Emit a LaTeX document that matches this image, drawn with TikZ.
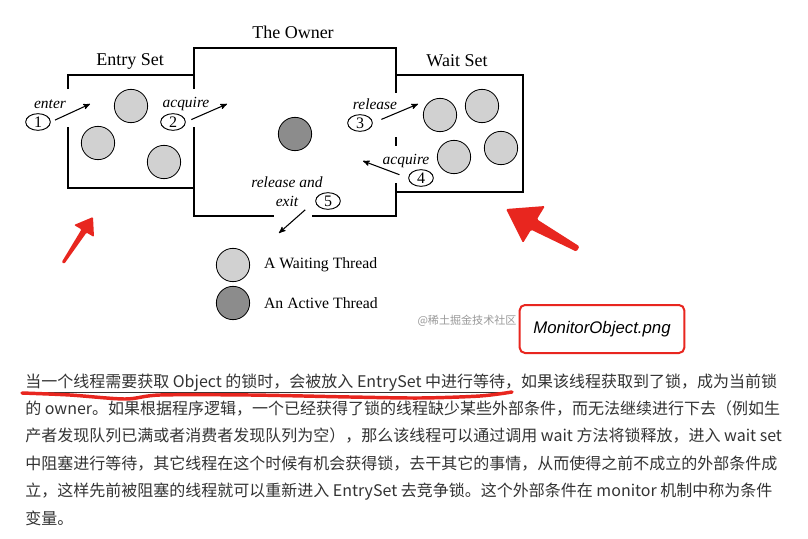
\documentclass[tikz,border=0pt]{standalone}
\usepackage{fontspec}
\setmainfont{Liberation Serif}
\setsansfont{Liberation Sans}
\newfontfamily\cjk{Noto Sans CJK SC}
\usetikzlibrary{shapes,arrows,positioning}
\definecolor{markred}{HTML}{E8261F}
\definecolor{bodytext}{HTML}{333333}

\begin{document}
\begin{tikzpicture}[x=0.75pt,y=-0.75pt,>=stealth']
\tikzstyle{wall}=[draw=black,line width=1.1pt]
\tikzstyle{waiting}=[circle,draw=black,line width=0.6pt,fill=black!18,minimum size=25pt,inner sep=0pt]
\tikzstyle{active}=[waiting,fill=black!45]
\tikzstyle{num}=[ellipse,draw=black,line width=0.7pt,minimum width=18.5pt,minimum height=12.5pt,inner sep=0pt,font=\fontsize{12}{12}\selectfont]
\tikzstyle{act}=[font=\itshape\fontsize{11.6}{14.25}\selectfont,align=center,inner sep=0pt]
\tikzstyle{title}=[font=\fontsize{13.5}{16}\selectfont]
\tikzstyle{legend}=[font=\fontsize{11.8}{14}\selectfont]
\tikzstyle{move}=[->,line width=0.8pt]
\tikzstyle{cn}=[anchor=base west,inner sep=0pt,text=bodytext,font=\cjk\fontsize{12}{20.6}\selectfont]
\tikzstyle{pngbox}=[draw=markred,line width=1.5pt,rounded corners=4pt,minimum width=123.5pt,minimum height=36pt,font=\sffamily\itshape\fontsize{12.6}{15}\selectfont]

\fill[white] (0,0) rectangle (808,539);
\useasboundingbox (0,0) rectangle (808,539);

% the three rooms
\draw[wall] (68,89) -- (68,75) -- (194,75);
\draw[wall] (68,127) -- (68,188) -- (194,188);
\draw[wall] (194,89) -- (194,48) -- (396,48) -- (396,93);
\draw[wall] (194,127) -- (194,216) -- (274,216);
\draw[wall] (312,216) -- (396,216) -- (396,183);
\draw[wall] (396,137) -- (396,146);
\draw[wall] (396,75) -- (523,75) -- (523,192) -- (396,192);

\node[title] (entry) at (130,61) {Entry Set};
\node[title] (owner) at (293,32) {The Owner};
\node[title] (wset) at (457,61) {Wait Set};

% threads
\node[waiting] (e1) at (131,106) {};
\node[waiting] (e2) at (98,143) {};
\node[waiting] (e3) at (164,162) {};
\node[active] (own) at (295,134) {};
\node[waiting] (w1) at (440,115) {};
\node[waiting] (w2) at (482,106) {};
\node[waiting] (w3) at (454,157) {};
\node[waiting] (w4) at (501,148) {};

% steps
\node[num] (n1) at (38,122) {1};
\node[num] (n2) at (173,122) {2};
\node[num] (n3) at (360,123) {3};
\node[num] (n4) at (421,178) {4};
\node[num] (n5) at (328,201) {5};
\node[act] (enter) at (50,104) {enter};
\node[act] (acq1) at (186,104) {acquire};
\node[act] (rel) at (375,104) {release};
\node[act] (acq2) at (406,161) {acquire};
\node[act] (exit) at (287,192) {release and\\exit};

\coordinate (t1) at (90,104);
\coordinate (t2) at (227,104);
\coordinate (t3) at (418,104);
\coordinate (t4) at (363,161);
\coordinate (t5) at (279,233);
\draw[move,shorten <=3.5pt] (n1.east) -- (t1);
\draw[move,shorten <=4.5pt] (n2.east) -- (t2);
\draw[move,shorten <=7pt] (n3.east) -- (t3);
\draw[move,shorten <=7pt] (n4.west) -- (t4);
\draw[move,shorten <=10pt] (n5.west) -- (t5);

% legend
\node[waiting] (lw) at (233,265) {};
\node[active] (la) at (233,303) {};
\node[legend,right=7pt of lw] (lwt) {A Waiting Thread};
\node[legend,right=7pt of la] (lat) {An Active Thread};

\node[text=black!40,font=\cjk\fontsize{8.3}{10}\selectfont] (mark) at (467,321) {@稀土掘金技术社区};
\node[pngbox] (png) at (602,329) {MonitorObject.png};

% red marks
\fill[markred,rounded corners=0.8pt] (93,217) -- (74,225) -- (81.5,229.4) -- (61.7,262.2) -- (64.3,263.8) -- (86.5,232.6) -- (94,237) -- cycle;
\fill[markred,rounded corners=1pt] (506,209) -- (545,206) -- (536.9,219.3) -- (579.5,246.4) -- (576.5,251.6) -- (531.1,229.7) -- (523,243) -- cycle;

% text
\node[cn] (l1) at (25,387) {\underline{当一个线程需要获取 Object 的锁时，会被放入 EntrySet 中进行等待}，如果该线程获取到了锁，成为当前锁};
\node[cn] (l2) at (25,414.4) {的 owner。如果根据程序逻辑，一个已经获得了锁的线程缺少某些外部条件，而无法继续进行下去（例如生};
\node[cn] (l3) at (25,441.8) {产者发现队列已满或者消费者发现队列为空），那么该线程可以通过调用 wait 方法将锁释放，进入 wait set};
\node[cn] (l4) at (25,469.2) {中阻塞进行等待，其它线程在这个时候有机会获得锁，去干其它的事情，从而使得之前不成立的外部条件成};
\node[cn] (l5) at (25,496.6) {立，这样先前被阻塞的线程就可以重新进入 EntrySet 去竞争锁。这个外部条件在 monitor 机制中称为条件};
\node[cn] (l6) at (25,524) {变量。};

\draw[markred,line width=2.6pt,line cap=round] plot[smooth] coordinates {(22,393) (70,395) (125,399) (160,395) (250,395) (350,397) (420,398) (480,396) (512,392)};
\end{tikzpicture}
\end{document}
